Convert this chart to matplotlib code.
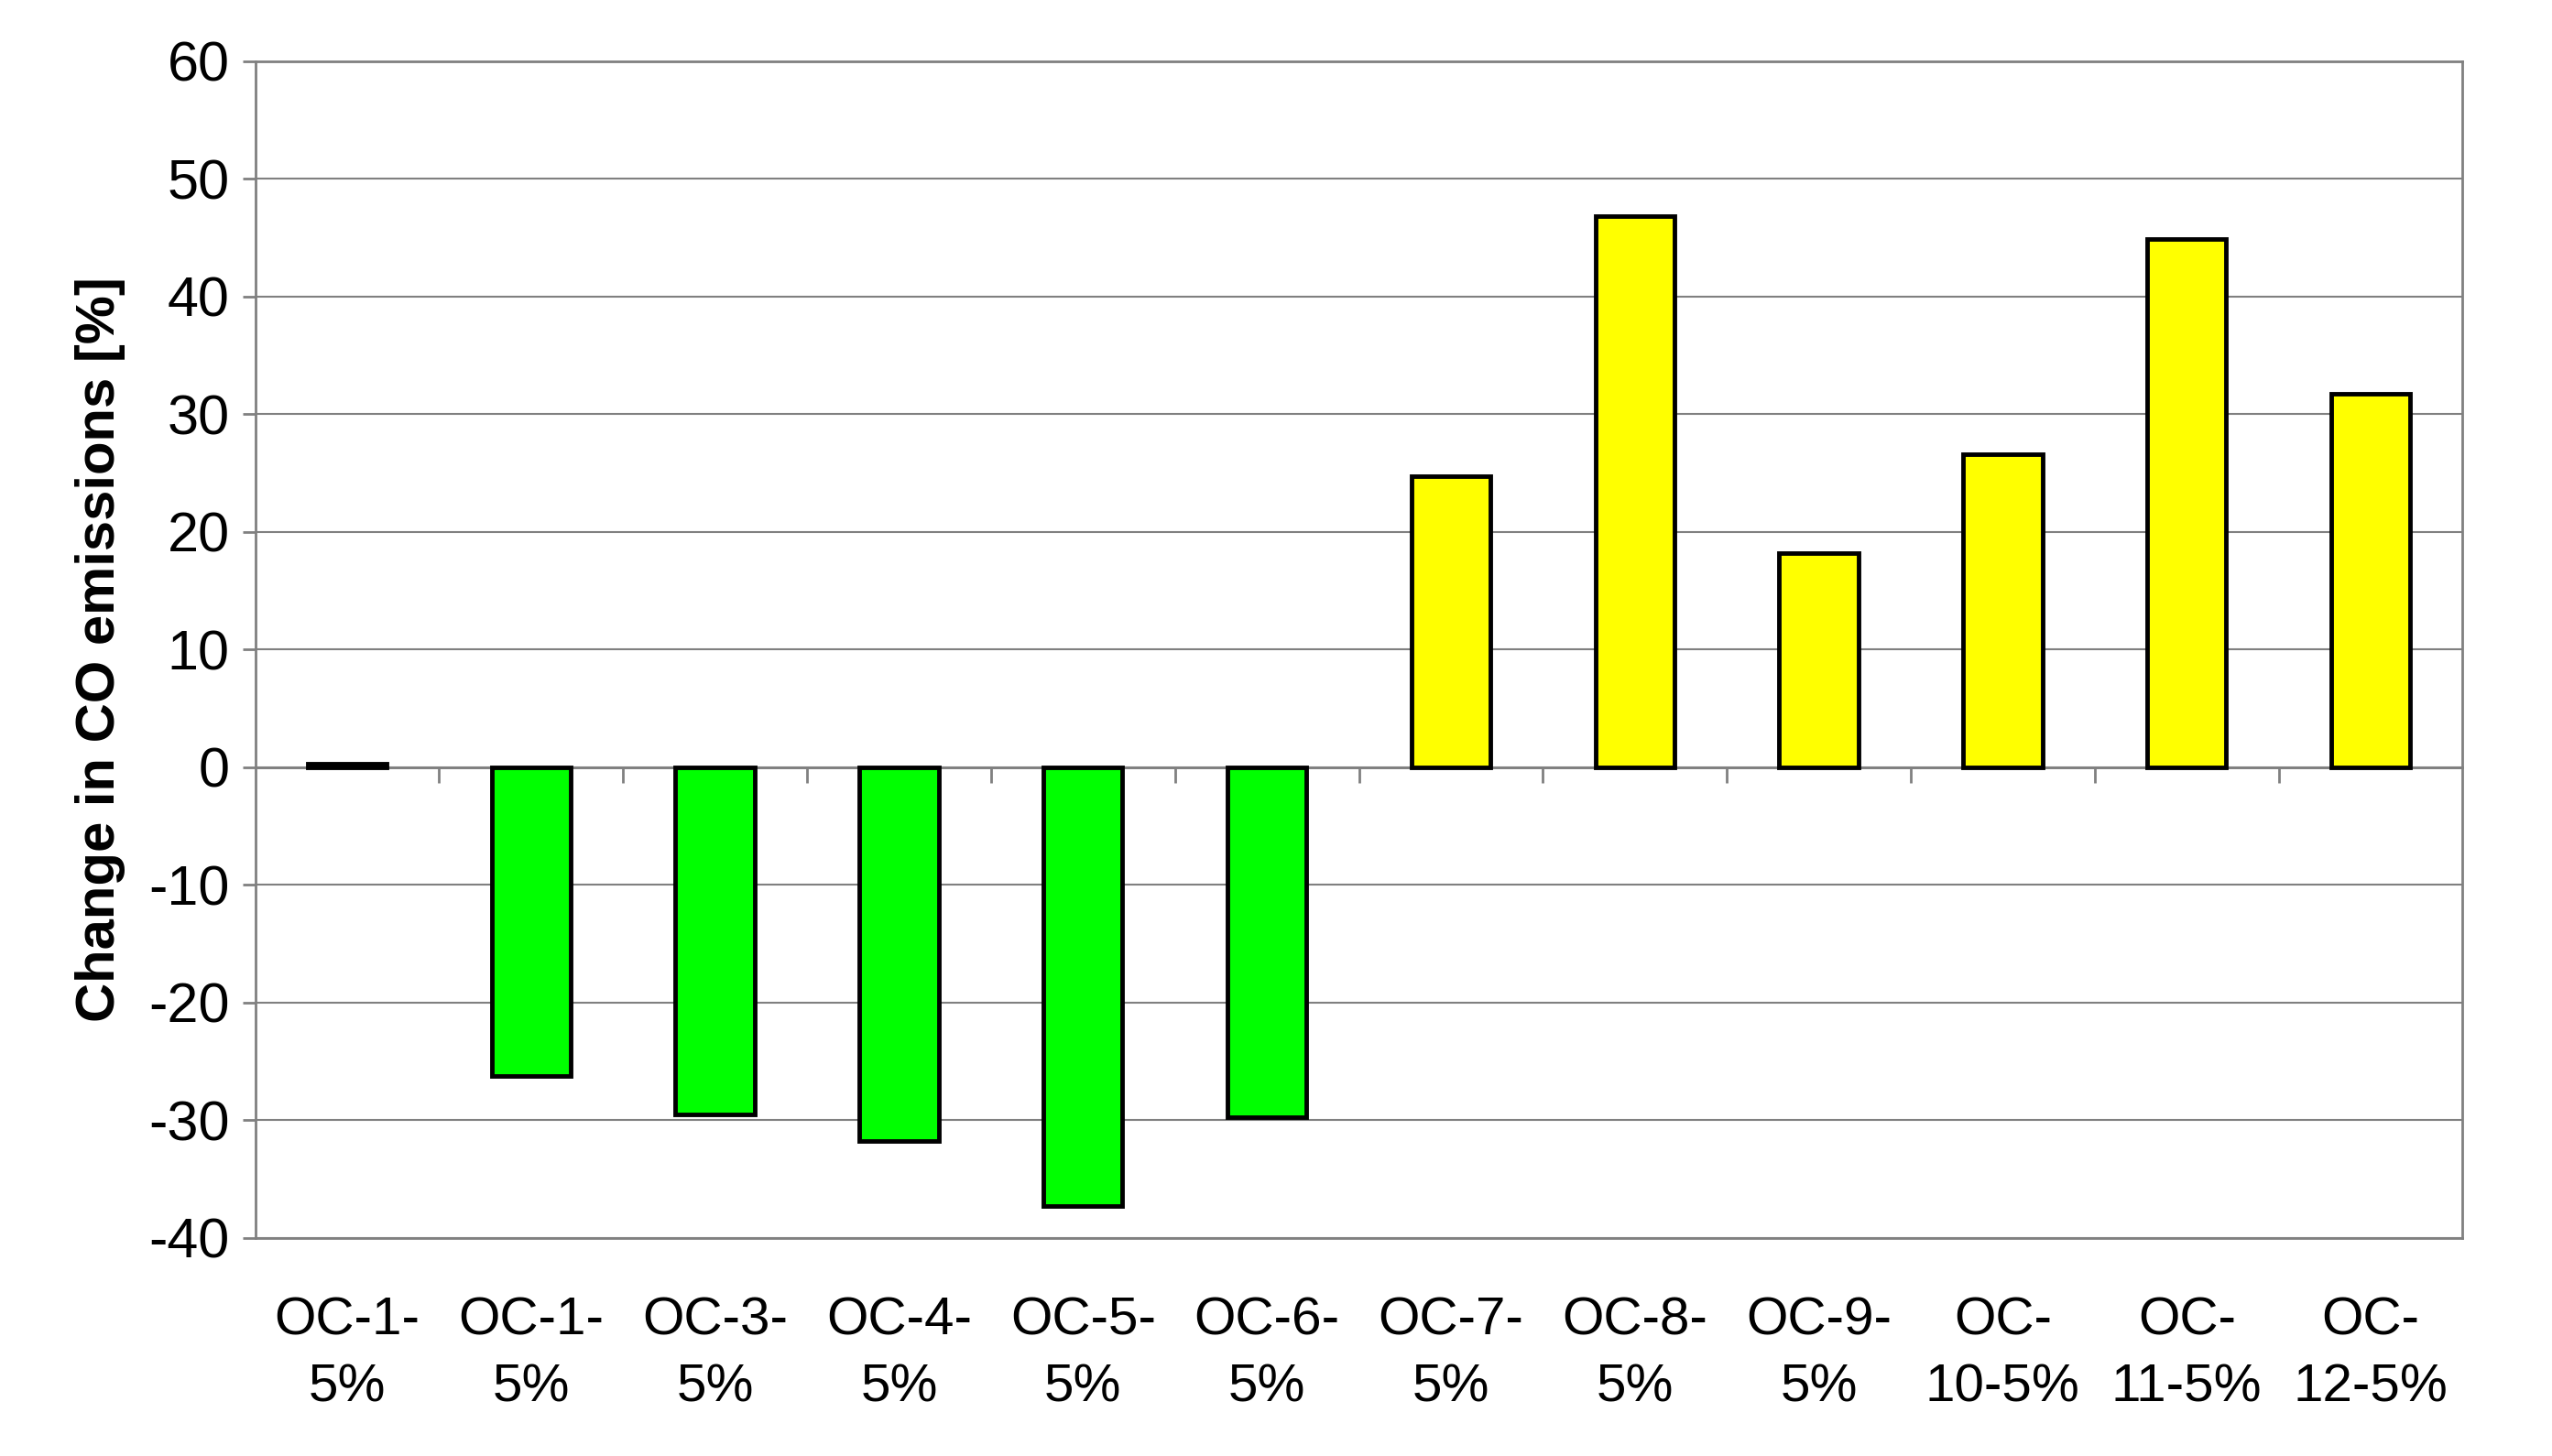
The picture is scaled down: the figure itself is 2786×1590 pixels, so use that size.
import matplotlib
matplotlib.use("Agg")
import matplotlib.pyplot as plt

labels = ["OC-1-\n5%", "OC-1-\n5%", "OC-3-\n5%", "OC-4-\n5%", "OC-5-\n5%", "OC-6-\n5%",
          "OC-7-\n5%", "OC-8-\n5%", "OC-9-\n5%", "OC-\n10-5%", "OC-\n11-5%", "OC-\n12-5%"]
values = [0.3, -26.3, -29.5, -31.8, -37.3, -29.8, 24.7, 46.8, 18.2, 26.6, 44.9, 31.7]
colors = ["#000000"] + ["#00FF00"] * 5 + ["#FFFF00"] * 6

plt.rcParams['font.family'] = ['Liberation Sans', 'DejaVu Sans']
plt.rcParams['axes.unicode_minus'] = False
fig = plt.figure(figsize=(27.86, 15.9), dpi=100)
ax = fig.add_axes([0.1, 0.15, 0.865, 0.808])
x = list(range(len(values)))
ax.bar(x, values, width=0.43, color=colors, edgecolor="black", linewidth=3.5, zorder=3)
ax.set_xlim(-0.5, len(values) - 0.5)
ax.set_ylim(-40, 60)
ax.set_yticks(range(-40, 61, 10))
ax.tick_params(axis='y', labelsize=44, length=10, width=2, color='#808080', pad=10)
ax.yaxis.grid(True, color='#808080', linewidth=1.5, zorder=0)
for s in ax.spines.values():
    s.set_color('#808080'); s.set_linewidth(2)
ax.axhline(0, color='#808080', linewidth=2, zorder=2)
ax.set_xticks([i + 0.5 for i in range(len(values) - 1)])
ax.set_xticklabels([])
ax.tick_params(axis='x', length=12, width=2, color='#808080')
ax.spines['bottom'].set_position(('data', 0))
ax.plot([-0.5, len(values) - 0.5], [-40, -40], color='#808080', linewidth=2, clip_on=False, zorder=1)
for i, lab in enumerate(labels):
    ax.text(i, -45.0, lab, ha='center', va='top', fontsize=42, linespacing=1.45)
ax.set_ylabel("Change in CO emissions [%]", fontsize=43, fontweight='bold', labelpad=18)
fig.savefig("out.png", dpi=100)
